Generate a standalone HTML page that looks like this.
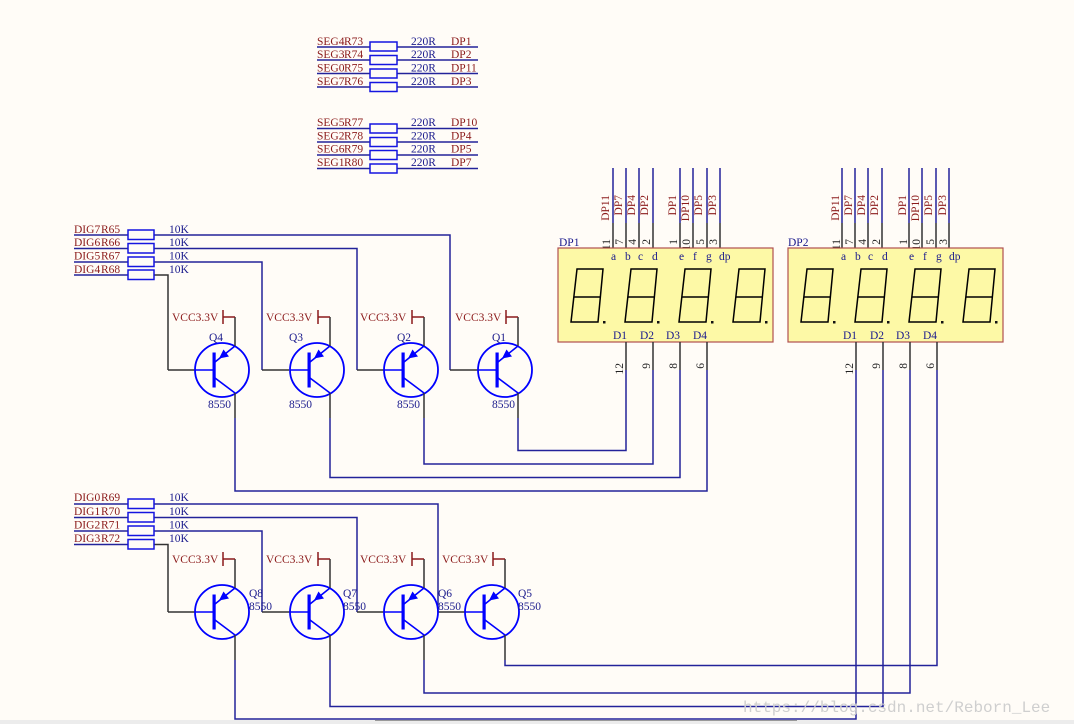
<!DOCTYPE html>
<html><head><meta charset="utf-8"><style>
html,body{margin:0;padding:0;background:#fffcf7;}
svg{display:block;}
text{font-family:"Liberation Serif",serif;font-size:11.5px;}
.r{fill:#8b1a1a;}
.b{fill:#1a1a8c;}
.w{stroke:#23239a;stroke-width:1.5;fill:none;}
.k{stroke:#333;stroke-width:1.5;fill:none;}
.res{stroke:#1515e0;stroke-width:1.5;fill:#fffcf7;}
.seg{stroke:#000;stroke-width:1.5;fill:none;}
</style></head><body>
<svg width="1074" height="724" viewBox="0 0 1074 724" xmlns="http://www.w3.org/2000/svg">
<defs>
<g id="q">
<circle cx="0" cy="0" r="27" fill="none" stroke="#0000ff" stroke-width="1.8"/>
<rect x="-9.5" y="-17.5" width="3.2" height="35" fill="#0000ff"/>
<line x1="-27" y1="0" x2="-7" y2="0" stroke="#0000ff" stroke-width="1.5"/>
<line x1="-7" y1="-8" x2="13" y2="-24" stroke="#0000ff" stroke-width="1.6"/>
<polygon points="-3,-11.5 7,-13.5 1.5,-20.5" fill="#0000ff"/>
<line x1="-7" y1="8" x2="13" y2="23" stroke="#0000ff" stroke-width="1.6"/>
<line x1="13" y1="-24" x2="13" y2="-53" stroke="#333" stroke-width="1.5"/>
<line x1="1" y1="-53" x2="13" y2="-53" stroke="#8b1a1a" stroke-width="1.5"/>
<line x1="1" y1="-60" x2="1" y2="-46" stroke="#8b1a1a" stroke-width="1.5"/>
<line x1="13" y1="23" x2="13" y2="48" stroke="#333" stroke-width="1.5"/>
</g>
<g id="dig">
<polygon class="seg" points="6,0 32,0 27,53 0,53"/>
<line class="seg" x1="3" y1="28" x2="29" y2="28"/>
<rect x="32" y="52" width="2.5" height="2.5" fill="#111"/>
</g>
<g id="disp">
<rect x="0" y="0" width="215" height="94" fill="#fdf9a6" stroke="#b05050" stroke-width="1.2"/>
<use href="#dig" x="13" y="21"/>
<use href="#dig" x="67" y="21"/>
<use href="#dig" x="121" y="21"/>
<use href="#dig" x="175" y="21"/>
<g class="b">
<text x="53" y="12">a</text><text x="67" y="12">b</text><text x="80" y="12">c</text><text x="94" y="12">d</text>
<text x="121" y="12">e</text><text x="135" y="12">f</text><text x="148" y="12">g</text><text x="161" y="12">dp</text>
<text x="55" y="91">D1</text><text x="82" y="91">D2</text><text x="108" y="91">D3</text><text x="135" y="91">D4</text>
</g>
</g>
</defs>

<g>
<line class="w" x1="317" y1="47" x2="370" y2="47"/><line class="w" x1="397" y1="47" x2="478" y2="47"/>
<line class="w" x1="317" y1="60" x2="370" y2="60"/><line class="w" x1="397" y1="60" x2="478" y2="60"/>
<line class="w" x1="317" y1="73.5" x2="370" y2="73.5"/><line class="w" x1="397" y1="73.5" x2="478" y2="73.5"/>
<line class="w" x1="317" y1="87" x2="370" y2="87"/><line class="w" x1="397" y1="87" x2="478" y2="87"/>
<rect class="res" x="370" y="42" width="27" height="9"/>
<rect class="res" x="370" y="55.5" width="27" height="9"/>
<rect class="res" x="370" y="69" width="27" height="9"/>
<rect class="res" x="370" y="82.5" width="27" height="9"/>
<text class="r" x="317" y="45">SEG4</text><text class="r" x="344" y="45">R73</text><text class="b" x="411" y="45">220R</text><text class="r" x="451" y="45">DP1</text>
<text class="r" x="317" y="58">SEG3</text><text class="r" x="344" y="58">R74</text><text class="b" x="411" y="58">220R</text><text class="r" x="451" y="58">DP2</text>
<text class="r" x="317" y="71.5">SEG0</text><text class="r" x="344" y="71.5">R75</text><text class="b" x="411" y="71.5">220R</text><text class="r" x="451" y="71.5">DP11</text>
<text class="r" x="317" y="85">SEG7</text><text class="r" x="344" y="85">R76</text><text class="b" x="411" y="85">220R</text><text class="r" x="451" y="85">DP3</text>

<line class="w" x1="317" y1="128.5" x2="370" y2="128.5"/><line class="w" x1="397" y1="128.5" x2="478" y2="128.5"/>
<line class="w" x1="317" y1="142" x2="370" y2="142"/><line class="w" x1="397" y1="142" x2="478" y2="142"/>
<line class="w" x1="317" y1="155" x2="370" y2="155"/><line class="w" x1="397" y1="155" x2="478" y2="155"/>
<line class="w" x1="317" y1="168.5" x2="370" y2="168.5"/><line class="w" x1="397" y1="168.5" x2="478" y2="168.5"/>
<rect class="res" x="370" y="124" width="27" height="9"/>
<rect class="res" x="370" y="137.5" width="27" height="9"/>
<rect class="res" x="370" y="150.5" width="27" height="9"/>
<rect class="res" x="370" y="164" width="27" height="9"/>
<text class="r" x="317" y="126">SEG5</text><text class="r" x="344" y="126">R77</text><text class="b" x="411" y="126">220R</text><text class="r" x="451" y="126">DP10</text>
<text class="r" x="317" y="139.5">SEG2</text><text class="r" x="344" y="139.5">R78</text><text class="b" x="411" y="139.5">220R</text><text class="r" x="451" y="139.5">DP4</text>
<text class="r" x="317" y="152.5">SEG6</text><text class="r" x="344" y="152.5">R79</text><text class="b" x="411" y="152.5">220R</text><text class="r" x="451" y="152.5">DP5</text>
<text class="r" x="317" y="166">SEG1</text><text class="r" x="344" y="166">R80</text><text class="b" x="411" y="166">220R</text><text class="r" x="451" y="166">DP7</text>
</g>

<g id="pins1">
<g class="w">
<line x1="613" y1="168" x2="613" y2="223"/><line x1="626" y1="168" x2="626" y2="223"/><line x1="639" y1="168" x2="639" y2="223"/><line x1="653" y1="168" x2="653" y2="223"/>
<line x1="680" y1="168" x2="680" y2="223"/><line x1="693" y1="168" x2="693" y2="223"/><line x1="707" y1="168" x2="707" y2="223"/><line x1="720" y1="168" x2="720" y2="223"/>
</g>
<g class="k">
<line x1="613" y1="223" x2="613" y2="248"/><line x1="626" y1="223" x2="626" y2="248"/><line x1="639" y1="223" x2="639" y2="248"/><line x1="653" y1="223" x2="653" y2="248"/>
<line x1="680" y1="223" x2="680" y2="248"/><line x1="693" y1="223" x2="693" y2="248"/><line x1="707" y1="223" x2="707" y2="248"/><line x1="720" y1="223" x2="720" y2="248"/>
</g>
</g>
<g class="r" text-anchor="end">
<text transform="translate(609,195) rotate(-90)">DP11</text>
<text transform="translate(622,195) rotate(-90)">DP7</text>
<text transform="translate(635,195) rotate(-90)">DP4</text>
<text transform="translate(648,195) rotate(-90)">DP2</text>
<text transform="translate(676,195) rotate(-90)">DP1</text>
<text transform="translate(689,195) rotate(-90)">DP10</text>
<text transform="translate(702,195) rotate(-90)">DP5</text>
<text transform="translate(716,195) rotate(-90)">DP3</text>
<text transform="translate(839,195) rotate(-90)">DP11</text>
<text transform="translate(852,195) rotate(-90)">DP7</text>
<text transform="translate(865,195) rotate(-90)">DP4</text>
<text transform="translate(878,195) rotate(-90)">DP2</text>
<text transform="translate(906,195) rotate(-90)">DP1</text>
<text transform="translate(919,195) rotate(-90)">DP10</text>
<text transform="translate(932,195) rotate(-90)">DP5</text>
<text transform="translate(946,195) rotate(-90)">DP3</text>
</g>
<g fill="#222" text-anchor="end">
<text transform="translate(610,239) rotate(-90)">11</text>
<text transform="translate(623,239) rotate(-90)">7</text>
<text transform="translate(636,239) rotate(-90)">4</text>
<text transform="translate(650,239) rotate(-90)">2</text>
<text transform="translate(677,239) rotate(-90)">1</text>
<text transform="translate(690,239) rotate(-90)">10</text>
<text transform="translate(704,239) rotate(-90)">5</text>
<text transform="translate(717,239) rotate(-90)">3</text>
<text transform="translate(840,239) rotate(-90)">11</text>
<text transform="translate(853,239) rotate(-90)">7</text>
<text transform="translate(866,239) rotate(-90)">4</text>
<text transform="translate(880,239) rotate(-90)">2</text>
<text transform="translate(907,239) rotate(-90)">1</text>
<text transform="translate(920,239) rotate(-90)">10</text>
<text transform="translate(934,239) rotate(-90)">5</text>
<text transform="translate(947,239) rotate(-90)">3</text>
<text transform="translate(623,363) rotate(-90)">12</text>
<text transform="translate(650,363) rotate(-90)">9</text>
<text transform="translate(677,363) rotate(-90)">8</text>
<text transform="translate(704,363) rotate(-90)">6</text>
<text transform="translate(853,363) rotate(-90)">12</text>
<text transform="translate(880,363) rotate(-90)">9</text>
<text transform="translate(907,363) rotate(-90)">8</text>
<text transform="translate(934,363) rotate(-90)">6</text>
</g>
<use href="#pins1" x="229"/>

<use href="#disp" x="558" y="248"/>
<use href="#disp" x="788" y="248"/>
<text class="b" x="559" y="246">DP1</text>
<text class="b" x="788" y="246">DP2</text>

<g>
<line class="w" x1="74" y1="235" x2="128" y2="235"/>
<line class="w" x1="74" y1="248.5" x2="128" y2="248.5"/>
<line class="w" x1="74" y1="262" x2="128" y2="262"/>
<line class="w" x1="74" y1="275" x2="128" y2="275"/>
<polyline class="w" points="154,235 450,235 450,370"/>
<polyline class="w" points="154,248.5 357,248.5 357,370"/>
<polyline class="w" points="154,262 262,262 262,370"/>
<polyline class="k" points="154,275 168,275 168,370"/>
<rect class="res" x="128" y="230" width="26" height="9.5"/>
<rect class="res" x="128" y="243.5" width="26" height="9.5"/>
<rect class="res" x="128" y="257" width="26" height="9.5"/>
<rect class="res" x="128" y="270" width="26" height="9.5"/>
<text class="r" x="74" y="233">DIG7</text><text class="r" x="101" y="233">R65</text><text class="b" x="169" y="233">10K</text>
<text class="r" x="74" y="246">DIG6</text><text class="r" x="101" y="246">R66</text><text class="b" x="169" y="246">10K</text>
<text class="r" x="74" y="259.5">DIG5</text><text class="r" x="101" y="259.5">R67</text><text class="b" x="169" y="259.5">10K</text>
<text class="r" x="74" y="273">DIG4</text><text class="r" x="101" y="273">R68</text><text class="b" x="169" y="273">10K</text>
</g>
<g class="k">
<line x1="168" y1="370" x2="195" y2="370"/>
<line x1="262" y1="370" x2="289" y2="370"/>
<line x1="357" y1="370" x2="384" y2="370"/>
<line x1="450" y1="370" x2="478" y2="370"/>
<line x1="626" y1="342" x2="626" y2="370"/><line x1="653" y1="342" x2="653" y2="370"/><line x1="680" y1="342" x2="680" y2="370"/><line x1="707" y1="342" x2="707" y2="370"/>
<line x1="856" y1="342" x2="856" y2="370"/><line x1="883" y1="342" x2="883" y2="370"/><line x1="910" y1="342" x2="910" y2="370"/><line x1="937" y1="342" x2="937" y2="370"/>
</g>
<g class="w">
<polyline points="518,418 518,450.5 626,450.5 626,370"/>
<polyline points="424,418 424,464 653,464 653,370"/>
<polyline points="330,418 330,477.5 680,477.5 680,370"/>
<polyline points="235,418 235,491 707,491 707,370"/>
<polyline points="505,660 505,665.5 937,665.5 937,370"/>
<polyline points="424,660 424,693 910,693 910,370"/>
<polyline points="330,660 330,706.5 883,706.5 883,370"/>
<polyline points="235,660 235,719 856,719 856,370"/>
</g>
<use href="#q" x="222" y="370"/>
<use href="#q" x="317" y="370"/>
<use href="#q" x="411" y="370"/>
<use href="#q" x="505" y="370"/>
<g class="r">
<text x="172" y="321">VCC3.3V</text><text x="266" y="321">VCC3.3V</text><text x="360" y="321">VCC3.3V</text><text x="455" y="321">VCC3.3V</text>
</g>
<g class="b">
<text x="209" y="341">Q4</text><text x="289" y="341">Q3</text><text x="397" y="341">Q2</text><text x="492" y="341">Q1</text>
<text x="208" y="408">8550</text><text x="289" y="408">8550</text><text x="397" y="408">8550</text><text x="492" y="408">8550</text>
</g>

<g>
<line class="w" x1="74" y1="504" x2="128" y2="504"/>
<line class="w" x1="74" y1="517.5" x2="128" y2="517.5"/>
<line class="w" x1="74" y1="531" x2="128" y2="531"/>
<line class="w" x1="74" y1="544.5" x2="128" y2="544.5"/>
<polyline class="w" points="154,504 438,504 438,612"/>
<polyline class="w" points="154,517.5 357,517.5 357,612"/>
<polyline class="w" points="154,531 262,531 262,612"/>
<polyline class="k" points="154,544.5 168,544.5 168,612"/>
<rect class="res" x="128" y="499" width="26" height="9.5"/>
<rect class="res" x="128" y="512.5" width="26" height="9.5"/>
<rect class="res" x="128" y="526" width="26" height="9.5"/>
<rect class="res" x="128" y="539.5" width="26" height="9.5"/>
<text class="r" x="74" y="501">DIG0</text><text class="r" x="101" y="501">R69</text><text class="b" x="169" y="501">10K</text>
<text class="r" x="74" y="515">DIG1</text><text class="r" x="101" y="515">R70</text><text class="b" x="169" y="515">10K</text>
<text class="r" x="74" y="528.5">DIG2</text><text class="r" x="101" y="528.5">R71</text><text class="b" x="169" y="528.5">10K</text>
<text class="r" x="74" y="542">DIG3</text><text class="r" x="101" y="542">R72</text><text class="b" x="169" y="542">10K</text>
</g>
<g class="k">
<line x1="168" y1="612" x2="195" y2="612"/>
<line x1="262" y1="612" x2="290" y2="612"/>
<line x1="357" y1="612" x2="384" y2="612"/>
<line x1="438" y1="612" x2="465" y2="612"/>
</g>
<use href="#q" x="222" y="612"/>
<use href="#q" x="317" y="612"/>
<use href="#q" x="411" y="612"/>
<use href="#q" x="492" y="612"/>
<g class="r">
<text x="172" y="563">VCC3.3V</text><text x="266" y="563">VCC3.3V</text><text x="360" y="563">VCC3.3V</text><text x="442" y="563">VCC3.3V</text>
</g>
<g class="b">
<text x="249" y="597">Q8</text><text x="343" y="597">Q7</text><text x="438" y="597">Q6</text><text x="518" y="597">Q5</text>
<text x="249" y="610">8550</text><text x="343" y="610">8550</text><text x="438" y="610">8550</text><text x="518" y="610">8550</text>
</g>

<text x="743" y="712" fill="#cfcfcf" style="font-family:'Liberation Mono',monospace;font-size:16px;">https://blog.csdn.net/Reborn_Lee</text>
<rect x="0" y="720" width="1074" height="4" fill="#ececec"/>
<line x1="375" y1="720.5" x2="797" y2="720.5" stroke="#999" stroke-width="1"/>
</svg>
</body></html>
